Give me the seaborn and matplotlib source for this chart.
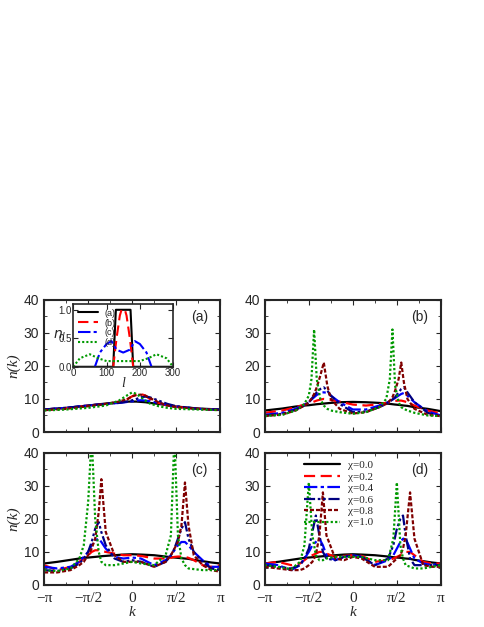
import matplotlib
matplotlib.use("Agg")
import matplotlib.pyplot as plt
import numpy as np
import pandas as pd
import seaborn as sns
from matplotlib.ticker import MultipleLocator

# k values in units of pi
K_A = [-1, -.75, -.5, -.3, -.15, -.05, 0, .05, .1, .15, .2, .3, .4, .5, .75, 1]
A_00 = [6.8, 7.3, 8, 8.6, 9, 9.2, 9.2, 9.2, 9.1, 9, 8.8, 8.5, 8.1, 7.7, 7.1, 6.8]
A_02 = [6.8, 7.2, 8, 8.5, 9, 10, 10.8, 11.3, 11.5, 11, 10, 8.8, 8, 7.6, 7, 6.7]
A_04 = [6.8, 7.3, 8, 8.5, 8.8, 9.1, 9.3, 9.5, 9.6, 9.5, 9.3, 8.8, 8.2, 7.7, 7, 6.7]
A_06 = [6.8, 7.3, 8, 8.5, 8.8, 9.2, 9.6, 10, 10.5, 10.7, 10.5, 9.5, 8.5, 7.8, 7, 6.8]
A_08 = [6.6, 7, 7.8, 8.5, 9.2, 10, 10.8, 11.2, 11.3, 11, 10.3, 9, 8, 7.5, 7, 6.6]
A_10 = [6.5, 6.8, 7.3, 8, 9.5, 11.2, 12, 11.5, 10.5, 9.5, 8.6, 7.8, 7.3, 7, 6.8, 6.6]

K_B = [-1, -.8, -.65, -.55, -.5, -.47, -.44, -.41, -.37, -.33, -.29, -.25, -.15, 0,
       .15, .3, .38, .42, .45, .48, .52, .55, .58, .62, .7, .85, 1]
B_00 = [6.5, 7.1, 7.7, 8.0, 8.1, 8.2, 8.3, 8.4, 8.5, 8.6, 8.7, 8.8, 9.0, 9.1,
        9.0, 8.8, 8.6, 8.5, 8.4, 8.3, 8.2, 8.1, 8.0, 7.9, 7.5, 7.0, 6.3]
B_02 = [5.8, 6.5, 7.5, 8.3, 8.6, 8.9, 9.2, 9.5, 9.8, 10, 9.9, 9.7, 9.2, 8.3,
        8, 8.4, 8.8, 9, 9.2, 9.4, 9.5, 9.5, 9.3, 9, 8, 6.5, 5.6]
B_04 = [5.2, 5.8, 7, 8.3, 9, 9.8, 10.5, 11.2, 11.8, 12, 11.8, 11, 9, 6.8,
        6.8, 8, 8.8, 9.3, 9.8, 10.3, 11, 11.5, 11.8, 11, 9, 6.2, 5]
B_06 = [5, 5.5, 6.7, 8, 9, 10, 11, 12, 13, 13.5, 12.5, 11, 8.5, 6,
        6.2, 7.5, 8.5, 9.2, 9.8, 10.5, 12, 13, 13.5, 12, 9, 5.8, 4.8]
B_08 = [4.8, 5.3, 6.5, 8, 9, 10, 11.5, 13.5, 17, 21, 14, 10, 7, 5.6,
        6, 7.5, 8.5, 9.5, 10.5, 12.5, 16, 21, 15, 10, 7, 5.2, 4.8]
B_10 = [4.8, 5.2, 6.5, 8.5, 11, 16, 31, 16, 10, 8, 7, 6.5, 6, 5.5,
        6, 7.5, 10, 16, 31, 14, 9, 7.5, 7, 6.5, 5.8, 5, 4.8]

K_C = [-1, -.85, -.7, -.6, -.55, -.5, -.46, -.42, -.38, -.35, -.3, -.2, -.1, 0,
       .1, .25, .38, .44, .48, .52, .56, .6, .64, .7, .8, .9, 1]
C_00 = [6.5, 7, 7.6, 8, 8.2, 8.3, 8.4, 8.5, 8.6, 8.7, 8.8, 9.0, 9.2, 9.3,
        9.2, 9, 8.6, 8.4, 8.3, 8.2, 8.1, 8.0, 7.9, 7.6, 7.2, 6.8, 6.5]
C_02 = [6, 4.5, 5.5, 7, 8, 9, 10, 10.5, 10.5, 10.3, 10, 9.5, 9, 9,
        8.8, 8, 8, 8.2, 8.5, 8.6, 8.6, 8.5, 8.2, 7.5, 6, 5.5, 6]
C_04 = [5.5, 5, 5.5, 7, 8.5, 10, 12, 13.5, 14, 13, 11, 8.5, 8, 8.3,
        8, 6, 7.5, 9, 10.5, 12, 13, 13, 12, 10, 7.5, 5.5, 5.5]
C_06 = [4.5, 4.2, 5, 6.5, 8, 10, 13, 17, 19, 16, 12, 8, 7, 7.5,
        7, 5.5, 7, 9, 11, 14, 17, 19, 14, 10, 7, 5, 4.5]
C_08 = [3.8, 3.8, 4.5, 6, 7, 9, 11, 14, 22, 32, 16, 9, 7, 7,
        7, 5.5, 7, 9, 11, 13, 18, 31, 18, 9, 6, 4.5, 4]
C_10 = [4.5, 4.2, 5, 8, 12, 25, 45, 20, 10, 7, 6, 6, 6.5, 7,
        6.5, 6, 9, 15, 45, 15, 8, 6, 5, 4.8, 4.5, 4.5, 4.5]

K_D = [-1, -.85, -.7, -.6, -.55, -.5, -.46, -.42, -.38, -.34, -.3, -.2, -.1, 0,
       .1, .25, .4, .46, .5, .54, .57, .6, .65, .7, .8, .9, 1]
D_00 = [6.5, 7, 7.6, 8, 8.2, 8.3, 8.4, 8.5, 8.6, 8.7, 8.8, 9, 9.2, 9.3,
        9.2, 9, 8.6, 8.4, 8.3, 8.2, 8.1, 8, 7.9, 7.6, 7.2, 6.8, 6.5]
D_02 = [6.5, 7, 6, 6.5, 7.5, 8.5, 9, 9.5, 10, 10, 9.5, 8.5, 8.8, 9,
        8.8, 7, 7.5, 8, 8.5, 9, 9.5, 10, 10, 9, 7, 6.5, 6.5]
D_04 = [6.5, 6, 4.5, 6, 8, 10, 12, 13, 14, 12, 9, 7.5, 8.5, 9,
        8.5, 6, 7.5, 9, 11, 13, 14, 14, 11, 8, 6.5, 6, 6.5]
D_06 = [6, 5.5, 5, 6, 8, 11, 16, 21, 15, 10, 8, 7.5, 8.5, 9,
        8.5, 6, 8, 12, 17, 20, 21, 15, 8, 6, 6, 6, 6]
D_08 = [5.5, 5, 4.5, 4.5, 5, 6, 7, 9, 15, 28, 15, 8, 7.5, 8.5,
        8, 5.5, 5.5, 7, 8, 9, 11, 15, 28, 14, 6, 5.5, 5.5]
D_10 = [6, 5.5, 4.8, 7, 12, 31, 15, 9, 7.5, 7.5, 8, 8.5, 8.5, 8.5,
        8.5, 7.5, 7.5, 14, 31, 12, 8, 6, 5.5, 5, 5, 5.5, 6]

CHI_LABELS = ["χ=0.0", "χ=0.2", "χ=0.4", "χ=0.6", "χ=0.8", "χ=1.0"]
COLORS = ["black", "#ff0000", "#0000ff", "#000080", "#800000", "#009900"]
STYLES = ["-", (0, (5, 2.5)), (0, (6, 1.5, 1.5, 1.5)), (0, (5, 1.2, 1.2, 1.2, 1.2, 1.2)),
          (0, (1.8, 0.9)), (0, (1, 1))]

# inset n_l vs l
INS_L_A = [0, 120, 128, 172, 180, 300]
INS_N_A = [0, 0, 1, 1, 0, 0]
INS_L_B = [120, 130, 140, 145, 155, 160, 170, 180]
INS_N_B = [0, 0.5, 0.9, 1, 1, 0.9, 0.5, 0]
INS_L_C = [65, 80, 100, 115, 130, 150, 170, 185, 200, 220, 235]
INS_N_C = [0, 0.25, 0.4, 0.45, 0.3, 0.25, 0.3, 0.45, 0.4, 0.25, 0]
INS_L_D = [0, 20, 50, 75, 100, 125, 150, 175, 200, 225, 250, 280, 300]
INS_N_D = [0, 0.15, 0.22, 0.15, 0.1, 0.1, 0.1, 0.1, 0.1, 0.15, 0.22, 0.15, 0]
INS_LABELS = ["(a)", "(b)", "(c)", "(d)"]

sns.set_style("ticks")
plt.rcParams["font.family"] = ["Liberation Sans", "DejaVu Sans"]
plt.rcParams["xtick.direction"] = "in"
plt.rcParams["ytick.direction"] = "in"

fig = plt.figure(figsize=(4.85, 6.27), dpi=100)
boxes = [(0.091, 0.311), (0.546, 0.311), (0.091, 0.067), (0.546, 0.067)]
panels = [
    ("(a)", K_A, [A_00, A_02, A_04, A_06, A_08, A_10]),
    ("(b)", K_B, [B_00, B_02, B_04, B_06, B_08, B_10]),
    ("(c)", K_C, [C_00, C_02, C_04, C_06, C_08, C_10]),
    ("(d)", K_D, [D_00, D_02, D_04, D_06, D_08, D_10]),
]
serif = ["Liberation Serif", "DejaVu Serif"]

for i, ((left, bottom), (tag, kk, series)) in enumerate(zip(boxes, panels)):
    ax = fig.add_axes([left, bottom, 0.363, 0.211])
    k = np.array(kk) * np.pi
    for j, vals in enumerate(series):
        df = pd.DataFrame({"k": k, "n": vals})
        sns.lineplot(data=df, x="k", y="n", ax=ax, color=COLORS[j], lw=1.6,
                     linestyle=STYLES[j], label=CHI_LABELS[j], legend=False)
    ax.set_xlim(-np.pi, np.pi)
    ax.set_ylim(0, 40)
    ax.xaxis.set_major_locator(MultipleLocator(np.pi / 2))
    ax.xaxis.set_minor_locator(MultipleLocator(np.pi / 4))
    ax.yaxis.set_major_locator(MultipleLocator(10))
    ax.yaxis.set_minor_locator(MultipleLocator(5))
    ax.tick_params(which="both", top=True, right=True, labelsize=10)
    ax.tick_params(axis="x", pad=5)
    for s in ax.spines.values():
        s.set_linewidth(1.5)
    ax.text(0.93, 0.84, tag, transform=ax.transAxes, ha="right", fontsize=10)
    if i >= 2:
        ax.set_xticks(np.array([-1, -0.5, 0, 0.5, 1]) * np.pi)
        ax.set_xticklabels(["−π", "−π/2", "0", "π/2", "π"], family=serif, fontsize=11)
        ax.set_xlabel("k", family=serif, style="italic", fontsize=11, labelpad=1)
    else:
        ax.set_xticklabels([])
        ax.set_xlabel("")
    if i % 2 == 0:
        ax.set_ylabel("n(k)", family=serif, style="italic", fontsize=11, labelpad=2)
    else:
        ax.set_ylabel("")
    if tag == "(d)":
        ax.legend(loc="upper center", bbox_to_anchor=(0.42, 1.0), frameon=False,
                  prop={"family": serif, "size": 8}, handlelength=3.2,
                  labelspacing=0.15, borderaxespad=0.3)

ins = fig.add_axes([0.151, 0.415, 0.206, 0.100])
for j, (ll, nn) in enumerate([(INS_L_A, INS_N_A), (INS_L_B, INS_N_B),
                               (INS_L_C, INS_N_C), (INS_L_D, INS_N_D)]):
    df = pd.DataFrame({"l": ll, "n": nn})
    sns.lineplot(data=df, x="l", y="n", ax=ins, color=[COLORS[0], COLORS[1], COLORS[2], COLORS[5]][j],
                 linestyle=[STYLES[0], STYLES[1], STYLES[2], STYLES[5]][j], lw=1.5,
                 label=INS_LABELS[j], legend=False)
ins.set_xlim(0, 300)
ins.set_ylim(0, 1.1)
ins.set_xticks([0, 100, 200, 300])
ins.set_yticks([0, 0.5, 1.0])
ins.yaxis.set_major_formatter(matplotlib.ticker.FormatStrFormatter("%.1f"))
ins.tick_params(labelsize=7, pad=1, top=True, right=True)
for s in ins.spines.values():
    s.set_linewidth(1.2)
ins.set_xlabel("l", family=serif, style="italic", fontsize=10, labelpad=-1)
ins.set_ylabel("")
ins.text(-0.2, 0.45, "$n_l$", transform=ins.transAxes, fontsize=10, family=serif)
ins.legend(loc="upper left", frameon=False, fontsize=6.5, handlelength=2.2,
           labelspacing=0.1, borderaxespad=0.1)

fig.savefig("out.png", dpi=100)
